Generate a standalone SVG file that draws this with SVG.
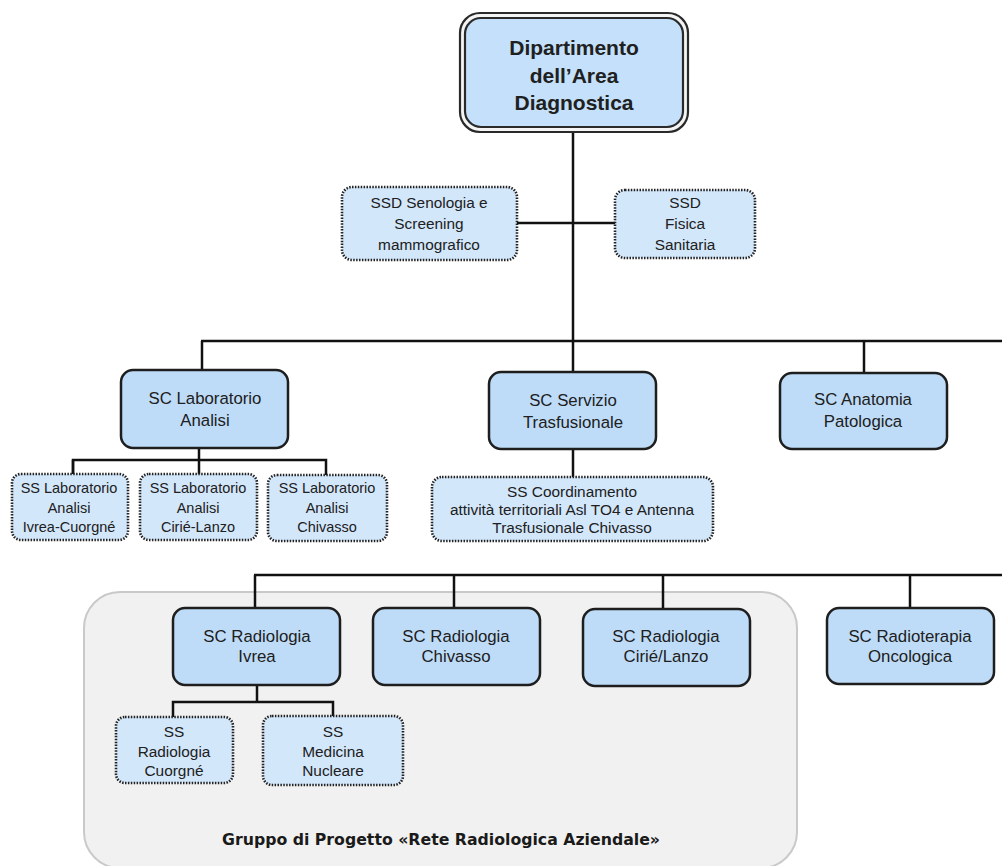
<svg xmlns="http://www.w3.org/2000/svg" width="1002" height="866" viewBox="0 0 1002 866">
<style>
.sc{fill:#bedcf8;stroke:#1e1e1e;stroke-width:2.5}
.ss{fill:#d3e7fb;stroke:#222;stroke-width:2.6;stroke-dasharray:1.5 1.4}
.t{font-family:"Liberation Sans",Arial,sans-serif;fill:#202020;text-anchor:middle}
.t17{font-size:16.8px}
.t15{font-size:15.4px}
.t14{font-size:14.5px}
.ln{stroke:#111;fill:none;stroke-width:2.5}
</style>
<rect width="1002" height="866" fill="#ffffff"/>
<g id="group-rete">
<rect x="84" y="592" width="713" height="276" rx="36" fill="#f1f1f1" stroke="#c9c9c9" stroke-width="2"/>
<text x="441" y="845" font-family="'DejaVu Sans',Verdana,sans-serif" font-weight="bold" font-size="15.5" fill="#1a1a1a" text-anchor="middle" textLength="438" lengthAdjust="spacingAndGlyphs">Gruppo di Progetto «Rete Radiologica Aziendale»</text>
</g>
<g id="connectors">
<line class="ln" x1="573" y1="132" x2="573" y2="372" stroke-width="3"/>
<line class="ln" x1="516" y1="223" x2="573" y2="223" stroke-width="4"/>
<line class="ln" x1="573" y1="223" x2="615" y2="223" stroke-width="2"/>
<line class="ln" x1="201" y1="341" x2="1002" y2="341"/>
<line class="ln" x1="202" y1="341" x2="202" y2="370"/>
<line class="ln" x1="864" y1="341" x2="864" y2="373"/>
<line class="ln" x1="199" y1="447" x2="199" y2="474"/>
<polyline class="ln" points="73,474 73,460 326,460 326,475"/>
<line class="ln" x1="73" y1="460" x2="73" y2="474" stroke-width="3.5"/>
<line class="ln" x1="573" y1="449" x2="573" y2="477"/>
<line class="ln" x1="254" y1="575" x2="1002" y2="575" stroke-width="3"/>
<line class="ln" x1="255" y1="575" x2="255" y2="608" stroke-width="3"/>
<line class="ln" x1="454" y1="575" x2="454" y2="608"/>
<line class="ln" x1="663" y1="575" x2="663" y2="609"/>
<line class="ln" x1="910" y1="575" x2="910" y2="608"/>
<line class="ln" x1="257" y1="685" x2="257" y2="702"/>
<polyline class="ln" points="173,717 173,702 333,702 333,716"/>
</g>
<g id="dipartimento">
<rect x="460" y="13" width="228" height="119" rx="20" fill="#f4f4f4" stroke="#2a2a2a" stroke-width="2.2"/>
<rect x="465" y="18" width="218" height="109" rx="16" fill="#c4e0fa" stroke="#2a2a2a" stroke-width="2.2"/>
<text class="t" x="574" y="55" font-size="21" font-weight="bold">Dipartimento</text>
<text class="t" x="574" y="83" font-size="21" font-weight="bold">dell’Area</text>
<text class="t" x="574" y="110" font-size="21" font-weight="bold">Diagnostica</text>
</g>
<g id="ssd-senologia">
<rect class="ss" x="342" y="187" width="175" height="73" rx="10"/>
<text class="t t15" x="429" y="208">SSD Senologia e</text>
<text class="t t15" x="429" y="229">Screening</text>
<text class="t t15" x="429" y="250">mammografico</text>
</g>
<g id="ssd-fisica">
<rect class="ss" x="615" y="190" width="140" height="68" rx="10"/>
<text class="t t15" x="685" y="208">SSD</text>
<text class="t t15" x="685" y="229">Fisica</text>
<text class="t t15" x="685" y="250">Sanitaria</text>
</g>
<g id="sc-laboratorio">
<rect class="sc" x="121" y="370" width="167" height="78" rx="12"/>
<text class="t t17" x="205" y="404">SC Laboratorio</text>
<text class="t t17" x="205" y="426">Analisi</text>
</g>
<g id="sc-servizio">
<rect class="sc" x="489" y="372" width="167" height="77" rx="12"/>
<text class="t t17" x="573" y="406">SC Servizio</text>
<text class="t t17" x="573" y="428">Trasfusionale</text>
</g>
<g id="sc-anatomia">
<rect class="sc" x="780" y="373" width="167" height="76" rx="12"/>
<text class="t t17" x="863" y="405">SC Anatomia</text>
<text class="t t17" x="863" y="427">Patologica</text>
</g>
<g id="ss-lab-ivrea">
<rect class="ss" x="12" y="474" width="116" height="66" rx="9"/>
<text class="t t14" x="69" y="493">SS Laboratorio</text>
<text class="t t14" x="69" y="513">Analisi</text>
<text class="t t14" x="69" y="532">Ivrea-Cuorgné</text>
</g>
<g id="ss-lab-cirie">
<rect class="ss" x="140" y="474" width="117" height="66" rx="9"/>
<text class="t t14" x="198" y="493">SS Laboratorio</text>
<text class="t t14" x="198" y="513">Analisi</text>
<text class="t t14" x="198" y="532">Cirié-Lanzo</text>
</g>
<g id="ss-lab-chivasso">
<rect class="ss" x="268" y="475" width="119" height="66" rx="9"/>
<text class="t t14" x="327" y="493">SS Laboratorio</text>
<text class="t t14" x="327" y="513">Analisi</text>
<text class="t t14" x="327" y="532">Chivasso</text>
</g>
<g id="ss-coordinamento">
<rect class="ss" x="432" y="477" width="281" height="64" rx="10"/>
<text class="t t15" x="572" y="497">SS Coordinamento</text>
<text class="t t15" x="572" y="515">attività territoriali Asl TO4 e Antenna</text>
<text class="t t15" x="572" y="533">Trasfusionale Chivasso</text>
</g>
<g id="sc-radiologia-ivrea">
<rect class="sc" x="173" y="608" width="167" height="77" rx="12"/>
<text class="t t17" x="257" y="642">SC Radiologia</text>
<text class="t t17" x="257" y="662">Ivrea</text>
</g>
<g id="sc-radiologia-chivasso">
<rect class="sc" x="373" y="608" width="167" height="77" rx="12"/>
<text class="t t17" x="456" y="642">SC Radiologia</text>
<text class="t t17" x="456" y="662">Chivasso</text>
</g>
<g id="sc-radiologia-cirie">
<rect class="sc" x="583" y="609" width="167" height="77" rx="12"/>
<text class="t t17" x="666" y="642">SC Radiologia</text>
<text class="t t17" x="666" y="662">Cirié/Lanzo</text>
</g>
<g id="sc-radioterapia">
<rect class="sc" x="827" y="608" width="167" height="76" rx="12"/>
<text class="t t17" x="910" y="642">SC Radioterapia</text>
<text class="t t17" x="910" y="662">Oncologica</text>
</g>
<g id="ss-radiologia-cuorgne">
<rect class="ss" x="116" y="717" width="117" height="66" rx="9"/>
<text class="t t15" x="174" y="737">SS</text>
<text class="t t15" x="174" y="757">Radiologia</text>
<text class="t t15" x="174" y="776">Cuorgné</text>
</g>
<g id="ss-medicina-nucleare">
<rect class="ss" x="263" y="716" width="140" height="69" rx="9"/>
<text class="t t15" x="333" y="737">SS</text>
<text class="t t15" x="333" y="757">Medicina</text>
<text class="t t15" x="333" y="776">Nucleare</text>
</g>
</svg>
